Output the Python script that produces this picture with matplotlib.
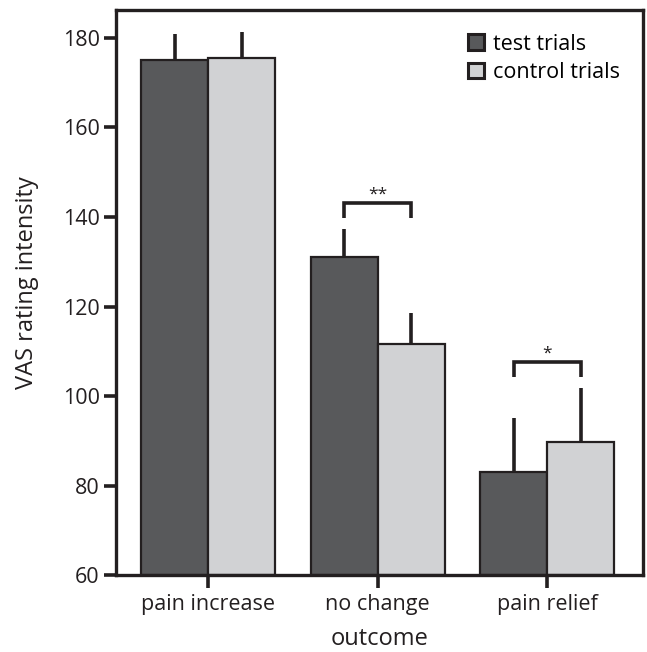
import numpy as np
import matplotlib
matplotlib.use("Agg")
import matplotlib.pyplot as plt

plt.rcParams['font.family'] = ['Open Sans', 'DejaVu Sans']

categories = ["pain increase", "no change", "pain relief"]
test_vals = [175.1, 131.1, 83.0]
test_err = [5.8, 6.2, 12.1]
control_vals = [175.5, 111.6, 89.7]
control_err = [5.9, 6.9, 12.0]

# significance brackets: (category index, bracket height, label)
sig_marks = [(1, 143.1, "**"), (2, 107.5, "*")]

dark = "#58595b"
light = "#d1d2d4"
edge = "#231f20"

fig = plt.figure(figsize=(6.47, 6.52), dpi=100)
ax = fig.add_axes([0.179, 0.118, 0.815, 0.867])

x = np.arange(len(categories))
w = 0.395
ax.bar(x - w / 2, np.array(test_vals) - 60, w, bottom=60, color=dark,
       edgecolor=edge, linewidth=1.6, label="test trials",
       yerr=[np.zeros(3), test_err], error_kw=dict(ecolor=edge, elinewidth=2.6, capsize=0))
ax.bar(x + w / 2, np.array(control_vals) - 60, w, bottom=60, color=light,
       edgecolor=edge, linewidth=1.6, label="control trials",
       yerr=[np.zeros(3), control_err], error_kw=dict(ecolor=edge, elinewidth=2.6, capsize=0))

for i, h, lab in sig_marks:
    x0, x1 = i - w / 2, i + w / 2
    ax.plot([x0, x0, x1, x1], [h - 3.3, h, h, h - 3.3], color=edge, lw=2.6,
            solid_joinstyle="miter", solid_capstyle="butt")
    ax.text(i, h + 0.2, lab, ha="center", va="bottom", fontsize=12.5, color=edge)

ax.set_xlim(-0.545, 2.565)
ax.set_ylim(60, 186.3)
ax.set_yticks([60, 80, 100, 120, 140, 160, 180])
ax.set_xticks(x)
ax.set_xticklabels(categories)

for s in ax.spines.values():
    s.set_linewidth(2.4)
    s.set_color(edge)
ax.tick_params(axis="y", length=8.5, width=2.6, color=edge, labelsize=15.5, pad=3, labelcolor=edge)
ax.tick_params(axis="x", length=9.5, width=2.6, color=edge, labelsize=15.5, pad=4, labelcolor=edge)

ax.set_ylabel("VAS rating intensity", fontsize=17, color=edge)
ax.yaxis.set_label_coords(-0.146, 0.517)
ax.set_xlabel("outcome", fontsize=17, color=edge, labelpad=9)

leg = ax.legend(loc="upper left", fontsize=15.5, frameon=False, handlelength=0.75,
                handleheight=0.75, handletextpad=0.4, labelspacing=0.35,
                borderpad=0, borderaxespad=0, bbox_to_anchor=(0.668, 0.958))
for p in leg.get_patches():
    p.set_linewidth(2.2)

fig.savefig("out.png", dpi=100)
